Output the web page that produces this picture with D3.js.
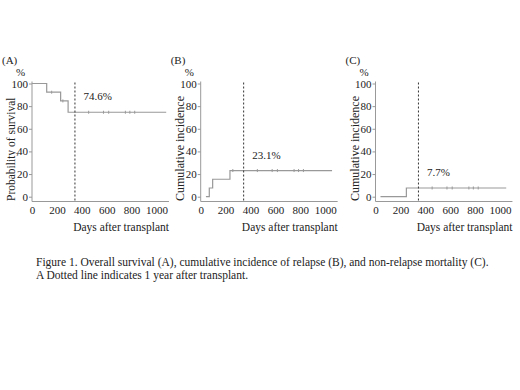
<!DOCTYPE html>
<html>
<head>
<meta charset="utf-8">
<script src="https://cdn.jsdelivr.net/npm/d3@7"></script>
<style>
body{margin:0;background:#fff;}
svg text{font-family:"Liberation Serif","Times New Roman",Times,serif !important;fill:#222;}
</style>
</head>
<body>
<svg width="520" height="390"></svg>
<script>
// step curves [day, percent]
var survA = [[0,100],[118,92.3],[230,84.6],[290,74.6],[1078,74.6]];
var relB = [[42,0],[69,7.7],[96,15.4],[235,23.1],[1055,23.1]];
var nrmC = [[40,0],[248,7.7],[1050,7.7]];
// censored patients (days)
var lateCensor = [455,574,616,750,786,825];
var censorA = [[158,92.3],[248,84.6]];
var censorB = [[258,23.1]];
var censorC = [];
var yTicks = [0,20,40,60,80,100];
var xTicks = [0,200,400,600,800,1000];
var oneYear = 345;

var panels = [
  {tag:"(A)", title:"Probability of survival", fs:11.5, data:survA, cens:censorA, last:74.6, label:"74.6%", x0:32},
  {tag:"(B)", title:"Cumulative incidence", fs:12, data:relB, cens:censorB, last:23.1, label:"23.1%", x0:200.7},
  {tag:"(C)", title:"Cumulative incidence", fs:12, data:nrmC, cens:censorC, last:7.7, label:"7.7%", x0:375.5}
];

var svg = d3.select("svg");
var yTop = 83.5, yBot = 196.7, xAxisY = 201.5;

panels.forEach(function(p){
  var x = d3.scaleLinear().domain([0,1000]).range([p.x0, p.x0 + 124.5]);
  var y = d3.scaleLinear().domain([0,100]).range([yBot, yTop]);

  svg.append("text").attr("x", p.x0 - 30).attr("y", 64).attr("font-size", 11).text(p.tag);
  svg.append("text").attr("x", p.x0 - 16).attr("y", 75.5).attr("font-size", 11).text("%");

  // y axis
  var ga = svg.append("g").attr("transform", "translate(" + p.x0 + ",0)")
    .call(d3.axisLeft(y).tickValues(yTicks).tickSize(3).tickPadding(1).tickSizeOuter(0));
  ga.attr("font-size", 11);
  ga.select(".domain").attr("d", "M0," + (yTop - 2) + "V" + xAxisY);
  ga.selectAll("path,line").attr("stroke", "#999");

  // x axis
  var gx = svg.append("g").attr("transform", "translate(0," + xAxisY + ")")
    .call(d3.axisBottom(x).tickValues(xTicks).tickFormat(d3.format("d")).tickSize(0).tickPadding(5));
  gx.attr("font-size", 11);
  gx.select(".domain").attr("d", "M" + p.x0 + ",0H" + x(1100)).attr("stroke", "#999");

  svg.append("text").attr("transform", "translate(" + (p.x0 - 17) + ",201) rotate(-90)")
    .attr("font-size", p.fs).text(p.title);

  svg.append("text").attr("x", x(1100)).attr("y", 230.5).attr("text-anchor", "end")
    .attr("font-size", 11.5).text("Days after transplant");

  var line = d3.line().x(d => x(d[0])).y(d => y(d[1])).curve(d3.curveStepAfter);
  svg.append("path").datum(p.data).attr("d", line)
    .attr("fill", "none").attr("stroke", "#999").attr("stroke-width", 1.2);

  var cens = p.cens.concat(lateCensor.map(d => [d, p.last]));
  svg.selectAll(null).data(cens).join("line")
    .attr("x1", d => x(d[0])).attr("x2", d => x(d[0]))
    .attr("y1", d => y(d[1]) - 1.5).attr("y2", d => y(d[1]) + 1.5)
    .attr("stroke", "#999");

  svg.append("line").attr("x1", x(oneYear)).attr("x2", x(oneYear))
    .attr("y1", yTop - 1).attr("y2", xAxisY)
    .attr("stroke", "#333").attr("stroke-dasharray", "2,2");

  svg.append("text").attr("x", x(oneYear) + 8.5)
    .attr("y", y(p.last) - 12).attr("font-size", 11).text(p.label);
});

svg.append("text").attr("x", 36).attr("y", 265.5).attr("font-size", 11.5)
  .text("Figure 1. Overall survival (A), cumulative incidence of relapse (B), and non-relapse mortality (C).");
svg.append("text").attr("x", 36).attr("y", 278.5).attr("font-size", 11.5)
  .text("A Dotted line indicates 1 year after transplant.");
</script>
</body>
</html>
